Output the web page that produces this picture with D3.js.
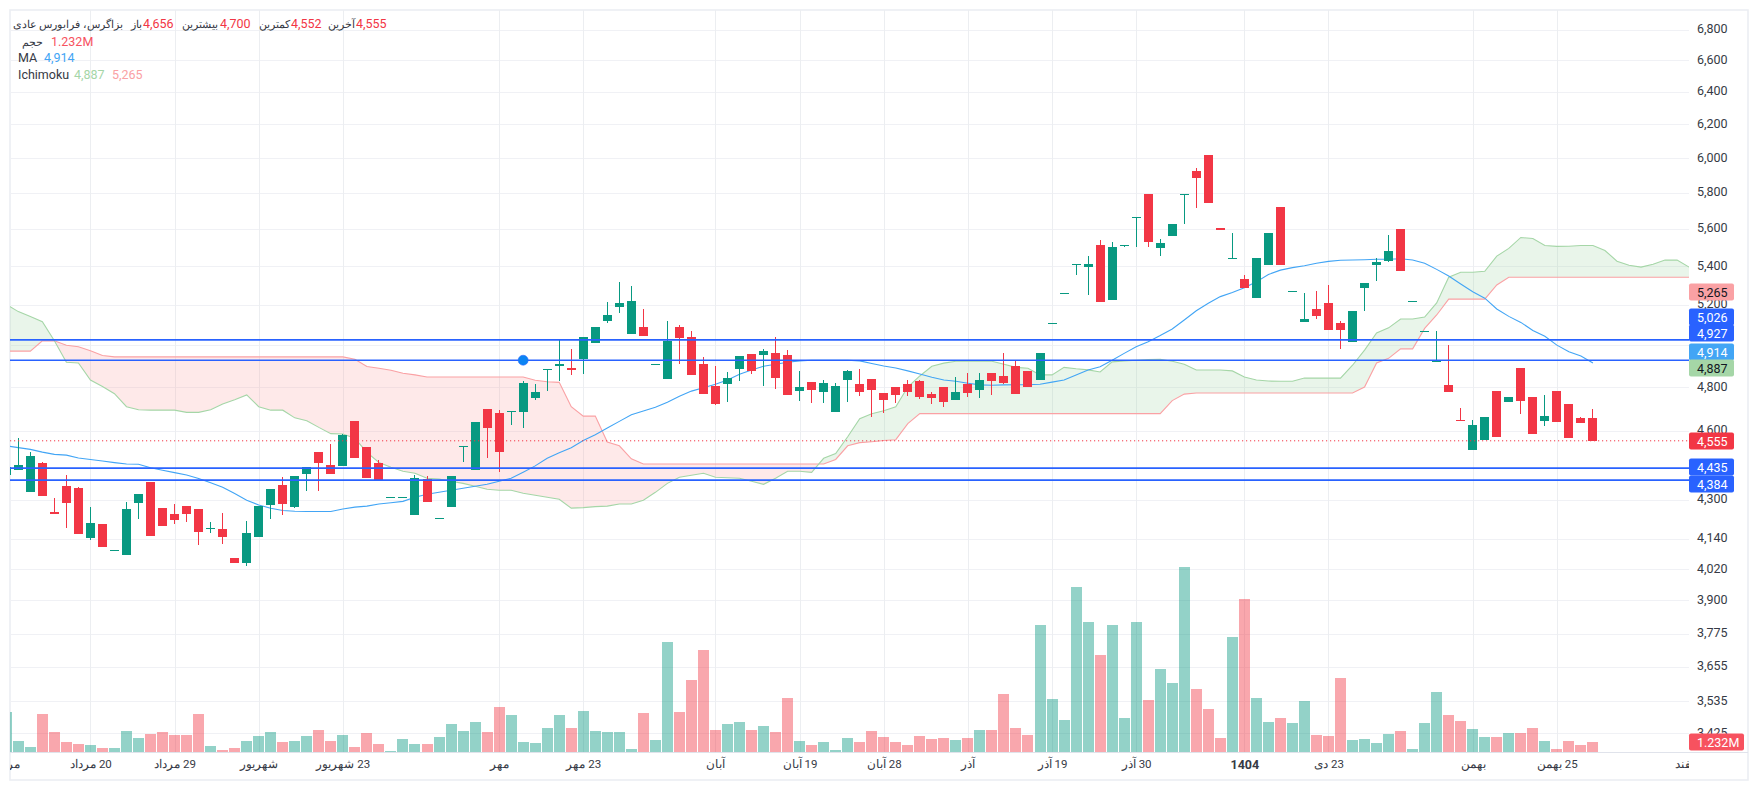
<!DOCTYPE html>
<html><head><meta charset="utf-8">
<script src="https://cdn.jsdelivr.net/npm/d3@7/dist/d3.min.js"></script>
<style>
html,body{margin:0;padding:0;background:#fff}
svg{display:block}
text{font-family:Roboto,"Noto Sans",sans-serif}
</style></head><body><svg id="c" width="1757" height="790"></svg>
<script>
const opens=[4405,4428,4334,4458,4250,4360,4351,4144,4201,4096,4076,4288,4377,4267,4242,4275,4263,4178,4178,4064,4044,4149,4279,4364,4271,4411,4507,4450,4445,4645,4529,4458,4313,4313,4238,4390,4226,4271,4533,4428,4699,4682,4690,4686,4749,4886,4898,4889,4932,5010,5119,5190,5056,5090,4908,4838,5090,5039,4908,4805,4814,4886,4956,4951,4961,4951,4781,4823,4777,4686,4833,4814,4838,4772,4800,4814,4828,4768,4800,4739,4814,4786,4866,4852,4898,4876,4833,5110,5261,5410,5395,5510,5225,5510,5665,5794,5494,5560,5794,5923,6018,5606,5443,5331,5235,5405,5720,5271,5114,5180,5210,5110,5015,5286,5405,5426,5600,5220,5070,4917,4809,4650,4515,4560,4781,4729,4889,4753,4645,4781,4720,4656,4656];
const highs=[4445,4569,4507,4462,4308,4407,4355,4271,4201,4096,4292,4325,4377,4267,4284,4275,4263,4209,4246,4064,4214,4275,4346,4398,4403,4441,4507,4543,4587,4645,4529,4471,4313,4313,4407,4403,4226,4403,4533,4641,4699,4695,4690,4828,4814,4886,5024,4981,5039,5090,5215,5318,5297,5180,4908,5119,5100,5070,4942,4898,4871,4946,4956,4981,5039,4976,4876,4823,4833,4819,4880,4886,4838,4772,4800,4833,4833,4777,4800,4847,4866,4866,4866,4961,4927,4876,4961,5110,5261,5410,5453,5537,5531,5510,5665,5794,5547,5628,5794,5942,6018,5606,5578,5352,5443,5578,5720,5271,5261,5271,5302,5119,5170,5312,5443,5567,5600,5220,5070,5070,5000,4704,4650,4662,4781,4753,4889,4753,4763,4781,4720,4662,4700];
const lows=[4402,4428,4334,4318,4242,4186,4161,4136,4108,4096,4076,4222,4153,4194,4201,4209,4116,4165,4120,4044,4032,4149,4222,4238,4267,4338,4338,4411,4445,4480,4394,4381,4313,4313,4238,4292,4226,4271,4462,4428,4480,4420,4627,4613,4739,4781,4828,4857,4861,5010,5110,5159,5056,5046,4908,4838,4908,4857,4768,4715,4729,4828,4861,4805,4791,4763,4734,4724,4724,4686,4729,4758,4662,4682,4724,4758,4744,4720,4706,4739,4753,4749,4763,4814,4768,4800,4833,5110,5261,5352,5251,5215,5225,5500,5500,5500,5453,5560,5628,5714,5745,5594,5443,5286,5235,5405,5405,5271,5114,5129,5076,4981,5015,5170,5323,5421,5373,5220,5070,4917,4777,4645,4515,4560,4573,4729,4677,4587,4622,4641,4569,4635,4552];
const closes=[4440,4450,4489,4318,4242,4288,4161,4205,4108,4096,4263,4325,4153,4194,4218,4242,4169,4186,4149,4044,4165,4275,4346,4284,4403,4441,4458,4411,4582,4480,4394,4381,4313,4313,4394,4292,4226,4403,4533,4641,4613,4507,4690,4819,4777,4886,4908,4880,5039,5090,5149,5210,5220,5046,4908,5019,5036,4857,4768,4720,4842,4946,4876,4971,4842,4763,4800,4786,4819,4805,4876,4777,4786,4739,4763,4777,4753,4749,4729,4777,4772,4833,4828,4819,4768,4800,4961,5110,5261,5410,5410,5215,5500,5510,5665,5526,5521,5628,5794,5883,5745,5594,5443,5286,5443,5578,5405,5271,5129,5144,5076,5076,5170,5312,5421,5478,5373,5220,5070,4927,4777,4645,4627,4662,4573,4753,4734,4587,4667,4641,4569,4635,4555];
const volumes=[4960,1350,620,4670,2460,1232,980,860,490,490,2580,1720,2210,2460,2090,2090,4670,740,250,490,1350,1970,2460,1230,1350,1970,2710,1350,2090,620,2340,980,120,1600,980,980,1850,3440,2580,3690,2460,5540,4550,1230,1110,2950,4550,2950,5040,2580,2460,2460,370,4800,1480,13530,4920,8860,12550,2710,3440,3690,2710,3200,2460,6640,1350,860,1230,250,1720,1230,2580,1850,1230,860,1970,1600,1720,1480,1720,2710,2710,7130,2950,2090,15620,6520,3940,20300,15990,11930,15620,4180,15990,6400,10210,8490,22760,7750,5290,1720,14150,18820,6640,3690,4180,3570,6270,2090,1970,9100,1480,1600,1110,2210,2580,370,3570,7380,4550,3810,2830,1850,1850,2340,2340,2950,1350,370,1350,860,1232];
const movingAvg=[4533,4525,4517,4505,4495,4492,4479,4473,4466,4459,4453,4452,4437,4426,4416,4406,4391,4373,4353,4327,4299,4279,4265,4256,4253,4252,4252,4252,4262,4270,4274,4283,4288,4294,4311,4324,4332,4341,4349,4358,4366,4379,4392,4418,4445,4478,4502,4524,4556,4582,4612,4642,4672,4689,4706,4729,4757,4781,4797,4813,4833,4860,4880,4898,4908,4917,4924,4927,4927,4927,4927,4924,4911,4899,4890,4876,4861,4846,4833,4827,4818,4810,4808,4810,4811,4811,4813,4823,4833,4857,4880,4896,4927,4960,4992,5017,5047,5079,5124,5170,5208,5242,5263,5288,5318,5356,5379,5392,5402,5415,5425,5431,5432,5434,5436,5436,5439,5432,5415,5383,5348,5307,5267,5234,5179,5142,5112,5072,5043,5000,4968,4947,4914];
const spanA=[5202,5166,5141,5115,5021,4917,4914,4833,4802,4769,4709,4695,4693,4693,4693,4683,4683,4695,4721,4741,4763,4709,4693,4693,4658,4645,4615,4587,4585,4566,4504,4460,4439,4422,4413,4392,4388,4379,4370,4358,4345,4341,4341,4328,4320,4311,4303,4266,4268,4272,4274,4283,4283,4299,4332,4370,4396,4405,4413,4396,4394,4392,4379,4366,4392,4422,4422,4417,4478,4499,4573,4654,4677,4690,4708,4800,4852,4898,4913,4922,4922,4922,4922,4908,4893,4889,4857,4857,4893,4886,4881,4871,4919,4924,4927,4930,4932,4922,4908,4880,4880,4880,4876,4847,4833,4828,4827,4827,4842,4842,4842,4842,4903,4976,5060,5085,5129,5129,5139,5210,5342,5368,5368,5373,5453,5494,5553,5547,5510,5505,5506,5510,5510,5483,5426,5405,5395,5410,5432,5432,5395];
const spanB=[4971,4971,4971,5021,5021,4999,4992,4973,4950,4943,4943,4943,4943,4943,4943,4943,4943,4943,4943,4943,4943,4943,4943,4943,4943,4943,4943,4943,4943,4932,4897,4889,4879,4865,4857,4847,4847,4847,4847,4847,4847,4847,4847,4847,4832,4825,4822,4709,4666,4666,4550,4533,4476,4453,4453,4453,4453,4453,4453,4453,4453,4453,4453,4453,4453,4453,4453,4453,4453,4473,4533,4547,4551,4556,4560,4632,4677,4677,4677,4677,4677,4677,4677,4677,4677,4677,4677,4677,4677,4677,4677,4677,4677,4677,4677,4677,4677,4737,4767,4772,4772,4772,4772,4772,4772,4772,4772,4772,4772,4772,4772,4772,4772,4800,4914,4936,4982,4982,5082,5149,5229,5229,5229,5229,5302,5342,5342,5342,5342,5342,5342,5342,5342,5342,5342,5342,5342,5342,5342,5342,5342];
const levelValues=[5026,4927,4435,4384];
const markerIndex=43, markerPrice=4927, lastPrice=4555;
const gridPrices=[6800,6600,6400,6200,6000,5800,5600,5400,5200,5000,4800,4600,4300,4140,4020,3900,3775,3655,3535,3425];
const priceTicks=[6800,6600,6400,6200,6000,5800,5600,5400,5200,4800,4600,4300,4140,4020,3900,3775,3655,3535,3425];
const timeIndex=[0,7,14,21,28,41,48,59,66,73,80,87,94,103,110,122,129,140];
const timeLabels=["مرداد","20 مرداد","29 مرداد","شهریور","23 شهریور","مهر","23 مهر","آبان","19 آبان","28 آبان","آذر","19 آذر","30 آذر","1404","23 دی","بهمن","25 بهمن","اسفند"];
const labelValues=[5265,5026,4927,4914,4887,4555,4435,4384];
const labelFills=["#faa1a4","#2962ff","#2962ff","#42a5f5","#a5d6a7","#f23645","#2962ff","#2962ff"];
const labelInks=["#131722","#fff","#fff","#fff","#131722","#fff","#fff","#fff"];
const labelShift=[0,-23,-27,-11,-1,0,-1,4];
const volumeLabel="1.232M", volumeLast=1232;

const UP="#089981",DOWN="#f23645",GRID="#f0f1f5",INK="#363a45";
const svg=d3.select("#c");
const x=d3.scaleLinear().domain([0,140]).range([6.3,1689.1]);
const y=d3.scaleLog().domain([6000,3535]).range([158,701]);
const v=d3.scaleLinear().domain([0,24600]).range([752,552]);
const isUp=i=>closes[i]>=opens[i];
const L=10,R=1689,T=10,B=752;

const defs=svg.append("defs");
defs.append("clipPath").attr("id","plot").append("rect").attr("x",L).attr("y",T).attr("width",R-L).attr("height",B-T);
const idx=d3.range(spanA.length);
defs.append("clipPath").attr("id","aboveB").append("path").attr("d",d3.area().x(i=>x(i)).y0(0).y1(i=>y(spanB[i]))(idx));
defs.append("clipPath").attr("id","aboveA").append("path").attr("d",d3.area().x(i=>x(i)).y0(0).y1(i=>y(spanA[i]))(idx));

// frame
svg.append("rect").attr("x",10).attr("y",10).attr("width",1738).attr("height",770).attr("fill","#fff").attr("stroke","#eceef3").attr("stroke-width",1.6);

// grid
const plot=svg.append("g").attr("clip-path","url(#plot)");
plot.selectAll(".gy").data(gridPrices).join("line").attr("x1",L).attr("x2",R)
 .attr("y1",d=>Math.round(y(d))+.5).attr("y2",d=>Math.round(y(d))+.5).attr("stroke",GRID).attr("stroke-width",1);
plot.selectAll(".gx").data(timeIndex).join("line").attr("y1",T).attr("y2",B)
 .attr("x1",d=>Math.round(x(d))+.5).attr("x2",d=>Math.round(x(d))+.5).attr("stroke","#eceef1").attr("stroke-width",1);

// volume
plot.selectAll(".vol").data(volumes).join("rect").attr("shape-rendering","crispEdges")
 .attr("x",(d,i)=>Math.round(x(i)-5.5)).attr("width",11)
 .attr("y",d=>Math.round(v(d))).attr("height",d=>v(0)-Math.round(v(d))).attr("fill",(d,i)=>isUp(i)?UP:DOWN).attr("fill-opacity",.44);

// cloud
plot.append("path").attr("clip-path","url(#aboveB)")
 .attr("d",d3.area().x(i=>x(i)).y0(i=>y(spanA[i])).y1(1000)(idx)).attr("fill","#a5d6a7").attr("fill-opacity",.24);
plot.append("path").attr("clip-path","url(#aboveA)")
 .attr("d",d3.area().x(i=>x(i)).y0(i=>y(spanB[i])).y1(1000)(idx)).attr("fill","#faa1a4").attr("fill-opacity",.24);
const lineOf=s=>d3.line().x((d,i)=>x(i)).y(d=>y(d))(s);
plot.append("path").attr("d",lineOf(spanB)).attr("fill","none").attr("stroke","#faa1a4").attr("stroke-width",1.1);
plot.append("path").attr("d",lineOf(spanA)).attr("fill","none").attr("stroke","#a5d6a7").attr("stroke-width",1.1);
plot.append("path").attr("d",lineOf(movingAvg)).attr("fill","none").attr("stroke","#42a5f5").attr("stroke-width",1.1);

// candles
plot.selectAll(".wick").data(opens).join("rect").attr("shape-rendering","crispEdges")
 .attr("x",(d,i)=>Math.round(x(i)-.5)).attr("width",1)
 .attr("y",(d,i)=>y(highs[i])).attr("height",(d,i)=>Math.max(0,y(lows[i])-y(highs[i])))
 .attr("fill",(d,i)=>isUp(i)?UP:DOWN);
plot.selectAll(".body").data(opens).join("rect").attr("shape-rendering","crispEdges")
 .attr("x",(d,i)=>Math.round(x(i)-.5)-4).attr("width",9)
 .attr("y",(d,i)=>y(Math.max(opens[i],closes[i])))
 .attr("height",(d,i)=>Math.max(1,Math.abs(y(opens[i])-y(closes[i]))))
 .attr("fill",(d,i)=>isUp(i)?UP:DOWN);

// last price and levels
plot.append("line").attr("x1",L).attr("x2",R).attr("y1",y(lastPrice)).attr("y2",y(lastPrice))
 .attr("stroke",DOWN).attr("stroke-width",1).attr("stroke-dasharray","1.2 2.8");
plot.selectAll(".lvl").data(levelValues).join("line").attr("x1",L).attr("x2",R)
 .attr("y1",d=>y(d)).attr("y2",d=>y(d)).attr("stroke","#2962ff").attr("stroke-width",1.7);
plot.append("circle").attr("cx",x(markerIndex)).attr("cy",y(markerPrice)).attr("r",5)
 .attr("fill","#0b84f3").attr("stroke","#2962ff").attr("stroke-opacity",.55).attr("stroke-width",1);

// axes
const py=svg.append("g").attr("transform",`translate(${R},-1)`)
 .call(d3.axisRight(y).tickValues(priceTicks).tickFormat(d3.format(",")).tickSize(0).tickPadding(8));
py.select(".domain").remove();
py.selectAll("text").attr("font-size",12.5).attr("fill",INK).attr("font-family","Roboto");
defs.append("clipPath").attr("id","timeclip").append("rect").attr("x",L).attr("y",0).attr("width",R-L).attr("height",28);
const px=svg.append("g").attr("transform",`translate(0,${B})`).attr("clip-path","url(#timeclip)")
 .call(d3.axisBottom(x).tickValues(timeIndex).tickFormat(d=>timeLabels[timeIndex.indexOf(d)]).tickSize(0).tickPadding(8));
px.select(".domain").remove();
px.selectAll("text").attr("font-size",d=>timeLabels[timeIndex.indexOf(d)]==="1404"?12.5:11.5).attr("fill",INK).attr("direction","rtl")
 .attr("font-weight",d=>timeLabels[timeIndex.indexOf(d)]==="1404"?700:400);
svg.append("line").attr("x1",L).attr("x2",1748).attr("y1",B+.5).attr("y2",B+.5).attr("stroke","#e0e3eb");

// price labels
const lab=svg.selectAll(".plab").data(labelValues).join("g").attr("transform",(d,i)=>`translate(${R},${Math.round(y(d)+labelShift[i])})`);
lab.append("rect").attr("x",0).attr("y",-8.5).attr("width",45).attr("height",17).attr("rx",2).attr("fill",(d,i)=>labelFills[i]);
lab.append("text").attr("x",8).attr("y",4.5).attr("font-size",12.5).attr("fill",(d,i)=>labelInks[i]).text(d=>d3.format(",")(d));
const vg=svg.append("g").attr("transform",`translate(${R},${Math.round(v(volumeLast))})`);
vg.append("rect").attr("y",-8.5).attr("width",55).attr("height",17).attr("rx",2).attr("fill","#f7525f");
vg.append("text").attr("x",8).attr("y",4.5).attr("font-size",12.5).attr("fill","#fff").text(volumeLabel);

// legend
const FA=10.8, EN=12.5;
const leg=[
 ["بزاگرس، فرابورس عادی",123,24,INK,"end",FA],["باز",142,24,INK,"end",FA],["4,656",143,24,DOWN,"start",EN],
 ["بیشترین",218,24,INK,"end",FA],["4,700",220,24,DOWN,"start",EN],["کمترین",290,24,INK,"end",FA],["4,552",291,24,DOWN,"start",EN],
 ["آخرین",355,24,INK,"end",FA],["4,555",356,24,DOWN,"start",EN],
 ["حجم",43,41.5,INK,"end",FA],["1.232M",51,41.5,"#f7525f","start",EN],
 ["MA",18,58,INK,"start",EN],["4,914",44,58,"#42a5f5","start",EN],
 ["Ichimoku",18,75,INK,"start",EN],["4,887",74,75,"#a5d6a7","start",EN],["5,265",112,75,"#faa1a4","start",EN]];
svg.selectAll(".leg").data(leg).join("text").attr("x",d=>d[1]).attr("y",d=>d[2]+4).attr("fill",d=>d[3])
 .attr("text-anchor",d=>d[4]).attr("font-size",d=>d[5]).text(d=>d[0]);
</script></body></html>
